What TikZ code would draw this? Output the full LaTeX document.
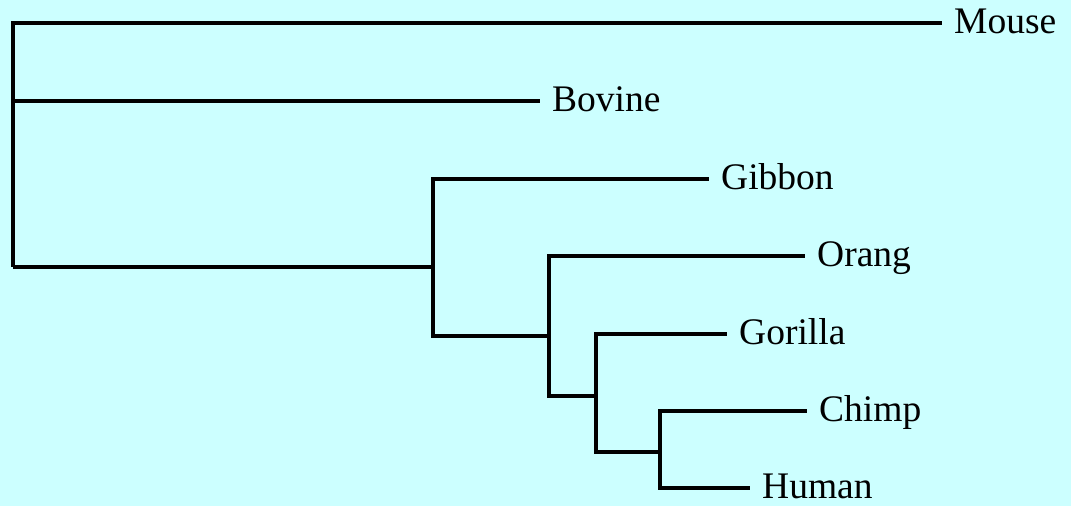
\documentclass[tikz,border=0pt]{standalone}
\usepackage{fontspec}
\setmainfont{Liberation Serif}
\definecolor{paper}{HTML}{CCFFFF}
\begin{document}
\begin{tikzpicture}[x=1pt,y=1pt,
  branch/.style={draw=black,line width=4pt,line join=miter},
  taxon/.style={anchor=base west,inner sep=0pt,xshift=12pt,yshift=-11pt,
    font=\fontsize{37.5}{42}\selectfont}]
\fill[paper] (0,0) rectangle (1071,506);
\useasboundingbox (0,0) rectangle (1071,506);
% internal nodes (x of the vertical bar, y where the parent joins)
\coordinate (R) at (13,239);
\coordinate (A) at (433,239);
\coordinate (B) at (549,170);
\coordinate (C) at (596,110);
\coordinate (D) at (660,54);
% branch tips
\coordinate (tMouse)   at (942,483);
\coordinate (tBovine)  at (540,405);
\coordinate (tGibbon)  at (709,327);
\coordinate (tOrang)   at (805,250);
\coordinate (tGorilla) at (727,172);
\coordinate (tChimp)   at (807,95);
\coordinate (tHuman)   at (750,18);
% taxon labels
\node[taxon] (Mouse)   at (tMouse)   {Mouse};
\node[taxon] (Bovine)  at (tBovine)  {Bovine};
\node[taxon] (Gibbon)  at (tGibbon)  {Gibbon};
\node[taxon] (Orang)   at (tOrang)   {Orang};
\node[taxon] (Gorilla) at (tGorilla) {Gorilla};
\node[taxon] (Chimp)   at (tChimp)   {Chimp};
\node[taxon] (Human)   at (tHuman)   {Human};
% branches
\draw[branch] (R) |- (tMouse);
\draw[branch] (R) |- (tBovine);
\draw[branch] (R) -- (A);
\draw[branch] (A) |- (tGibbon);
\draw[branch] (A) |- (B);
\draw[branch] (B) |- (tOrang);
\draw[branch] (B) |- (C);
\draw[branch] (C) |- (tGorilla);
\draw[branch] (C) |- (D);
\draw[branch] (D) |- (tChimp);
\draw[branch] (D) |- (tHuman);
\end{tikzpicture}
\end{document}
